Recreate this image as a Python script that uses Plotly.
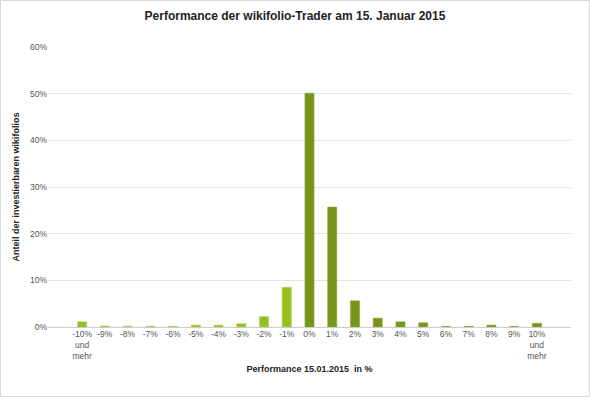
import plotly.graph_objects as go

categories = ["-10%<br>und<br>mehr", "-9%", "-8%", "-7%", "-6%", "-5%", "-4%", "-3%", "-2%", "-1%",
              "0%", "1%", "2%", "3%", "4%", "5%", "6%", "7%", "8%", "9%", "10%<br>und<br>mehr"]
values = [1.1, 0.2, 0.15, 0.15, 0.15, 0.4, 0.4, 0.7, 2.2, 8.5,
          50.1, 25.7, 5.6, 1.9, 1.1, 0.9, 0.15, 0.15, 0.4, 0.15, 0.8]

light = "#95c11f"
dark = "#76951b"
colors = [light] * 10 + [dark] * 11
line_colors = ["#a9cf45"] * 10 + ["#8aab2c"] * 11

W, H = 590, 397
ml, mr, mt, mb = 48, 19, 47, 70
pw, ph = W - ml - mr, H - mt - mb

fig = go.Figure(go.Bar(
    x=list(range(len(categories))), y=values,
    marker=dict(color=colors, line=dict(color=line_colors, width=0.6)),
    width=0.4,
))

font = "Liberation Sans, Arial, Helvetica, sans-serif"
fig.update_layout(
    width=W, height=H,
    margin=dict(l=ml, r=mr, t=mt, b=mb),
    paper_bgcolor="white", plot_bgcolor="white",
    font=dict(family=font, color="#555555", size=8.5),
    showlegend=False,
    title=dict(text="<b>Performance der wikifolio-Trader am 15. Januar 2015</b>",
               x=0.5, xanchor="center", y=1 - 16 / H, yanchor="middle",
               font=dict(size=12, color="#222222", family=font)),
    xaxis=dict(
        tickmode="array", tickvals=list(range(len(categories))), ticktext=categories,
        range=[-1.5, 21.5], showgrid=False, zeroline=False,
        showline=False, ticks="", tickangle=0,
        tickfont=dict(size=8.5, color="#555555"),
        title=dict(text="<b>Performance 15.01.2015  in %</b>",
                   font=dict(size=9, color="#222222"), standoff=6),
    ),
    yaxis=dict(
        range=[0, 60], dtick=10, ticksuffix="%",
        showgrid=True, gridcolor="#e3e3e3", gridwidth=1,
        zeroline=True, zerolinecolor="#cccccc", zerolinewidth=1,
        showline=False, ticks="",
        tickfont=dict(size=8.5, color="#555555"),
        title=dict(text="<b>Anteil der investierbaren wikifolios</b>",
                   font=dict(size=9, color="#222222"), standoff=8),
    ),
    shapes=[dict(type="rect", xref="paper", yref="paper",
                 x0=(0.5 - ml) / pw, x1=(W - 0.5 - ml) / pw,
                 y0=-(mb - 0.5) / ph, y1=1 + (mt - 0.5) / ph,
                 line=dict(color="#d8d8d8", width=1), layer="below")],
)

fig.write_html("out.html",
               config={"displayModeBar": False},
               post_script="document.body.style.margin='0';document.body.style.overflow='hidden';")
